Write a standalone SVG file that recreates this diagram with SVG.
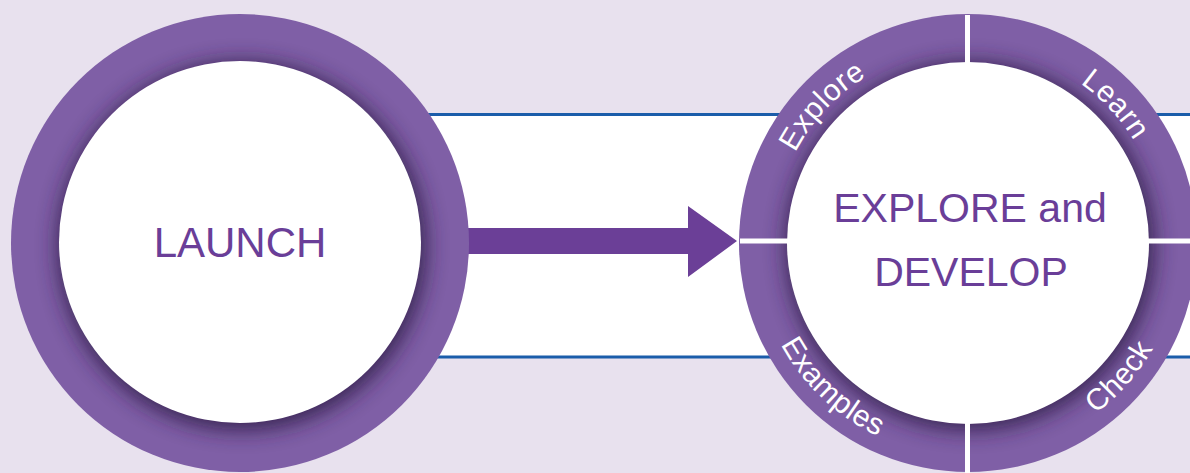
<svg xmlns="http://www.w3.org/2000/svg" width="1190" height="473" viewBox="0 0 1190 473">
  <style>
    .ring { fill: #7f5fa6; }
    .core { fill: #ffffff; }
    .shade { fill: #2f1b47; opacity: 0.9; filter: url(#soft); }
    .title { font-family: "Liberation Sans", Arial, sans-serif; fill: #6a3e98; text-anchor: middle; }
    .seg { font-family: "Liberation Sans", Arial, sans-serif; font-size: 30px; letter-spacing: 0.6px; fill: #ffffff; text-anchor: middle; }
    .gap { stroke: #ffffff; stroke-width: 5; }
    .rule { stroke: #1b5daa; stroke-width: 3; }
  </style>
  <defs>
    <filter id="soft" x="-20%" y="-20%" width="140%" height="140%">
      <feGaussianBlur stdDeviation="11"/>
    </filter>
    <!-- label baselines: upper arcs run clockwise, lower arcs counter-clockwise -->
    <path id="arcExplore" d="M 773 243 A 195 195 0 0 1 968 48"/>
    <path id="arcLearn" d="M 968 48 A 195 195 0 0 1 1163 243"/>
    <path id="arcExamples" d="M 755 243 A 213 213 0 0 0 968 456"/>
    <path id="arcCheck" d="M 968 456 A 213 213 0 0 0 1181 243"/>
  </defs>

  <!-- page -->
  <rect x="0" y="0" width="1190" height="473" fill="#e8e1ee"/>

  <!-- white band between the two stages -->
  <rect x="300" y="114.5" width="890" height="242.5" fill="#ffffff"/>
  <line class="rule" x1="300" y1="114.5" x2="1190" y2="114.5"/>
  <line class="rule" x1="300" y1="357" x2="1190" y2="357"/>

  <g id="connectors">
    <path d="M 460 228 L 688 228 L 688 206 L 737 241 L 688 277 L 688 254 L 460 254 Z" fill="#6b3f97"/>
  </g>

  <g id="launch">
    <circle class="ring" cx="240" cy="243" r="229"/>
    <circle class="shade" cx="242" cy="246" r="184"/>
    <circle class="core" cx="240" cy="242" r="181"/>
    <text class="title" x="240" y="257" font-size="42">LAUNCH</text>
  </g>

  <g id="explore-develop">
    <circle class="ring" cx="968" cy="243" r="229"/>
    <circle class="shade" cx="970" cy="246" r="184"/>
    <circle class="core" cx="968" cy="243" r="181"/>
    <line class="gap" x1="967.5" y1="15" x2="967.5" y2="64"/>
    <line class="gap" x1="967.5" y1="422" x2="967.5" y2="480"/>
    <line class="gap" x1="740" y1="241" x2="790" y2="241"/>
    <line class="gap" x1="1146" y1="241" x2="1200" y2="241"/>
    <text class="title" x="970" y="222" font-size="41">EXPLORE and</text>
    <text class="title" x="971" y="286" font-size="41">DEVELOP</text>
    <text class="seg"><textPath href="#arcExplore" startOffset="48%">Explore</textPath></text>
    <text class="seg"><textPath href="#arcLearn" startOffset="52%">Learn</textPath></text>
    <text class="seg"><textPath href="#arcExamples" startOffset="52%">Examples</textPath></text>
    <text class="seg"><textPath href="#arcCheck" startOffset="54%">Check</textPath></text>
  </g>
</svg>
